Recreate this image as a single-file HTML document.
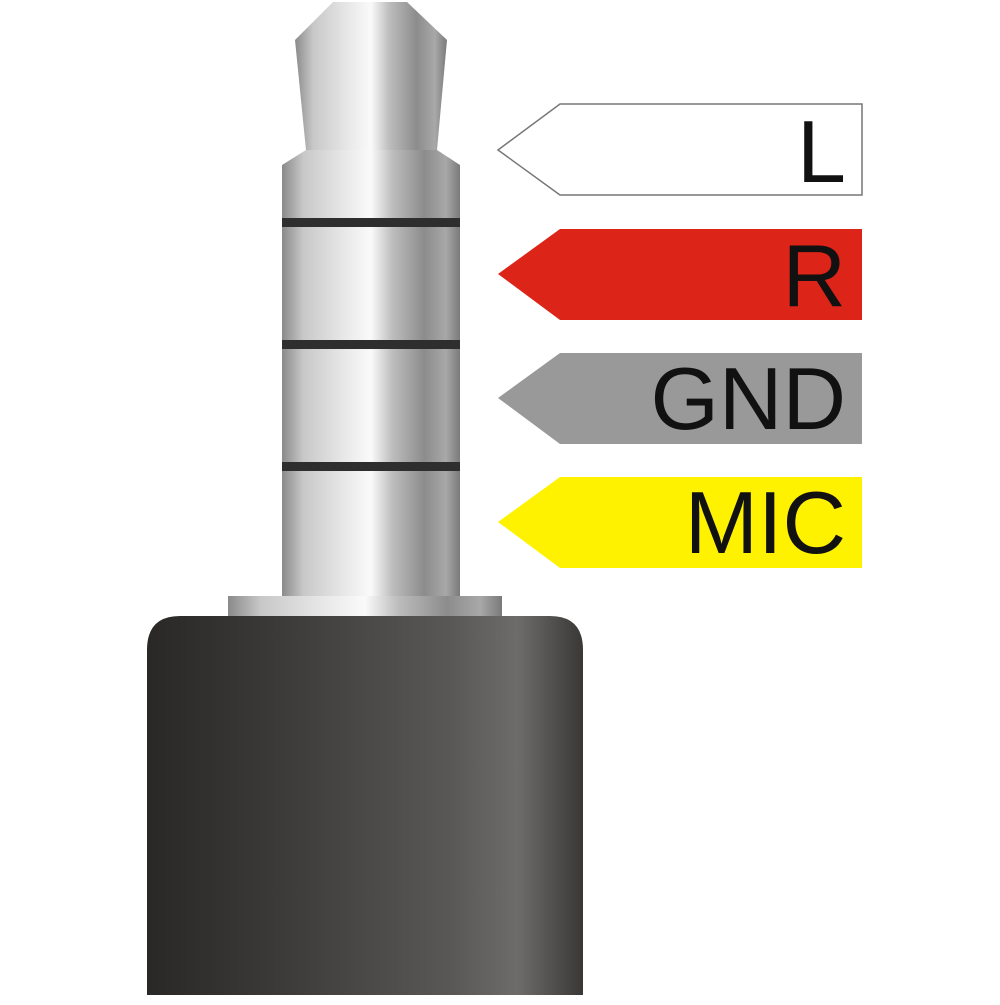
<!DOCTYPE html>
<html><head><style>body{margin:0;background:#fff}</style></head><body>
<svg width="1000" height="1000" viewBox="0 0 1000 1000" xmlns="http://www.w3.org/2000/svg">
<defs>
<linearGradient id="m" x1="0" x2="1" y1="0" y2="0">
<stop offset="0" stop-color="#8a8a8a"/><stop offset="0.12" stop-color="#c8c8c8"/><stop offset="0.35" stop-color="#e8e8e8"/><stop offset="0.5" stop-color="#fafafa"/><stop offset="0.62" stop-color="#bdbdbd"/><stop offset="0.8" stop-color="#8c8c8c"/><stop offset="0.92" stop-color="#a8a8a8"/><stop offset="1" stop-color="#7a7a7a"/>
</linearGradient>
<linearGradient id="b" x1="0" x2="1" y1="0" y2="0">
<stop offset="0" stop-color="#2a2826"/><stop offset="0.3" stop-color="#3c3a38"/><stop offset="0.7" stop-color="#5a5856"/><stop offset="0.85" stop-color="#6e6c6a"/><stop offset="1" stop-color="#3a3836"/>
</linearGradient>
</defs>
<path d="M333 2 L407 2 L447 40 L437 150 L306 150 L295 40 Z" fill="url(#m)"/>
<path d="M306 150 L437 150 L460 165 L460 596 L282 596 L282 165 Z" fill="url(#m)"/>
<rect x="282" y="218" width="178" height="9" fill="#2e2e2e"/>
<rect x="282" y="340" width="178" height="9" fill="#2e2e2e"/>
<rect x="282" y="462" width="178" height="9" fill="#2e2e2e"/>
<rect x="228" y="596" width="274" height="20" fill="url(#m)"/>
<path d="M147 995 L147 650 Q147 616 180 616 L550 616 Q583 616 583 650 L583 995 Z" fill="url(#b)"/>
<g font-family="Liberation Sans, sans-serif" font-size="88" text-anchor="end" fill="#111">
<path d="M862 104 L560 104 L498 150 L560 195 L862 195 Z" fill="#fff" stroke="#777" stroke-width="1.5"/>
<text x="846" y="182">L</text>
<path d="M862 229 L560 229 L498 274 L560 320 L862 320 Z" fill="#dc2418"/>
<text x="846" y="306">R</text>
<path d="M862 353 L560 353 L498 398 L560 444 L862 444 Z" fill="#999"/>
<text x="846" y="429">GND</text>
<path d="M862 477 L560 477 L498 522 L560 568 L862 568 Z" fill="#fff200"/>
<text x="846" y="553">MIC</text>
</g>
</svg>
</body></html>
